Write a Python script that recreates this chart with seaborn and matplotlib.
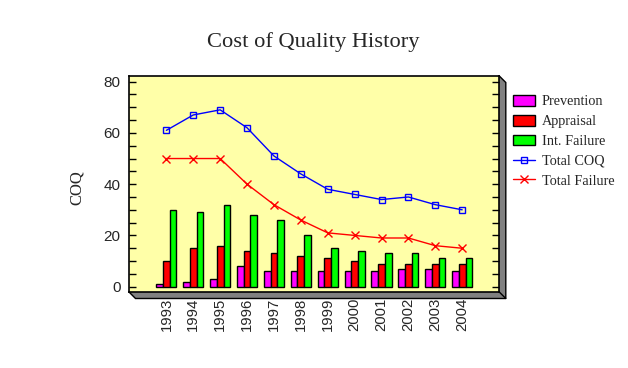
import numpy as np
import pandas as pd
import matplotlib
matplotlib.use("Agg")
import matplotlib.pyplot as plt
import seaborn as sns
from matplotlib.patches import Polygon
from matplotlib.lines import Line2D

years = ["1993", "1994", "1995", "1996", "1997", "1998", "1999", "2000", "2001", "2002", "2003", "2004"]
prevention = [1, 2, 3, 8, 6, 6, 6, 6, 6, 7, 7, 6]
appraisal = [10, 15, 16, 14, 13, 12, 11, 10, 9, 9, 9, 9]
int_failure = [30, 29, 32, 28, 26, 20, 15, 14, 13, 13, 11, 11]
total_coq = [61, 67, 69, 62, 51, 44, 38, 36, 34, 35, 32, 30]
total_failure = [50, 50, 50, 40, 32, 26, 21, 20, 19, 19, 16, 15]
bar_series = ["Prevention", "Appraisal", "Int. Failure"]
bar_colors = ["#FF00FF", "#FF0000", "#00FF00"]

W, H = 628, 368
sns.set_theme(style="white")
plt.rcParams["font.family"] = ["Liberation Sans", "DejaVu Sans"]

fig = plt.figure(figsize=(W / 100, H / 100), dpi=100)
fig.patch.set_facecolor("white")

def fx(x):
    return x / W

def fy(y):
    return 1 - y / H

L, R, T, B = 129, 499.3, 76, 292
ax = fig.add_axes([fx(L), fy(B), (R - L) / W, (B - T) / H])
ax.set_facecolor("#FFFFA8")

df = pd.DataFrame({
    "Year": years * 3,
    "Series": sum([[s] * len(years) for s in bar_series], []),
    "Value": prevention + appraisal + int_failure,
})
sns.barplot(data=df, x="Year", y="Value", hue="Series", hue_order=bar_series,
            palette=bar_colors, width=0.75, saturation=1, edgecolor="black",
            linewidth=1.0, ax=ax, zorder=3)

pos = np.arange(len(years))
sns.lineplot(x=pos, y=total_coq, color="#0000FF", lw=1.0, marker="s", ms=4.2,
             mfc="none", mec="#0000FF", mew=1.0, label="Total COQ", ax=ax, zorder=4)
sns.lineplot(x=pos, y=total_failure, color="#FF0000", lw=1.0, marker="x", ms=6,
             mec="#FF0000", mew=1.0, label="Total Failure", ax=ax, zorder=4)

ax.set_xlim(-1.39, 12.38)
ax.set_ylim(-2.07, 82.2)
ax.set_xlabel("")
ax.set_ylabel("")
ax.set_yticks([0, 20, 40, 60, 80])
ax.set_yticks(np.arange(0, 81, 5), minor=True)
ax.tick_params(axis="y", which="both", direction="in", length=5, width=1,
               left=True, right=True, labelright=False, color="black",
               labelsize=11, pad=6)
ax.tick_params(axis="x", which="both", length=0, labelsize=10.7, pad=4,
               labelrotation=90)
for lab in ax.get_xticklabels():
    lab.set_va("top")
for sp in ax.spines.values():
    sp.set_color("black")
    sp.set_linewidth(1.2)

# 3D shadow
d = 6.5
shadow = Polygon([(fx(L), fy(B)), (fx(L + d), fy(B + d)), (fx(R + d), fy(B + d)),
                  (fx(R + d), fy(T + d)), (fx(R), fy(T))], closed=True,
                 transform=fig.transFigure, facecolor="#808080", edgecolor="black",
                 lw=1.0, zorder=-1)
fig.patches.append(shadow)
fig.lines.append(Line2D([fx(R), fx(R + d)], [fy(B), fy(B + d)], transform=fig.transFigure,
                        color="black", lw=1.0))

fig.text(fx(313.5), fy(47.3), "Cost of Quality History", ha="center", va="baseline",
         fontsize=16.2, family=["Liberation Serif"])
fig.text(fx(77), fy(188), "COQ", ha="center", va="center", rotation=90,
         fontsize=12, family=["Liberation Serif"])

handles, labels = ax.get_legend_handles_labels()
if ax.get_legend() is not None:
    ax.get_legend().remove()
fig.legend(handles, labels, loc="upper left", bbox_to_anchor=(fx(513), fy(95)),
           frameon=False, prop={"family": "Liberation Serif", "size": 10.3},
           handlelength=1.55, handleheight=0.78, handletextpad=0.45, labelspacing=0.45,
           borderaxespad=0, borderpad=0)

fig.savefig("out.png", dpi=100)
